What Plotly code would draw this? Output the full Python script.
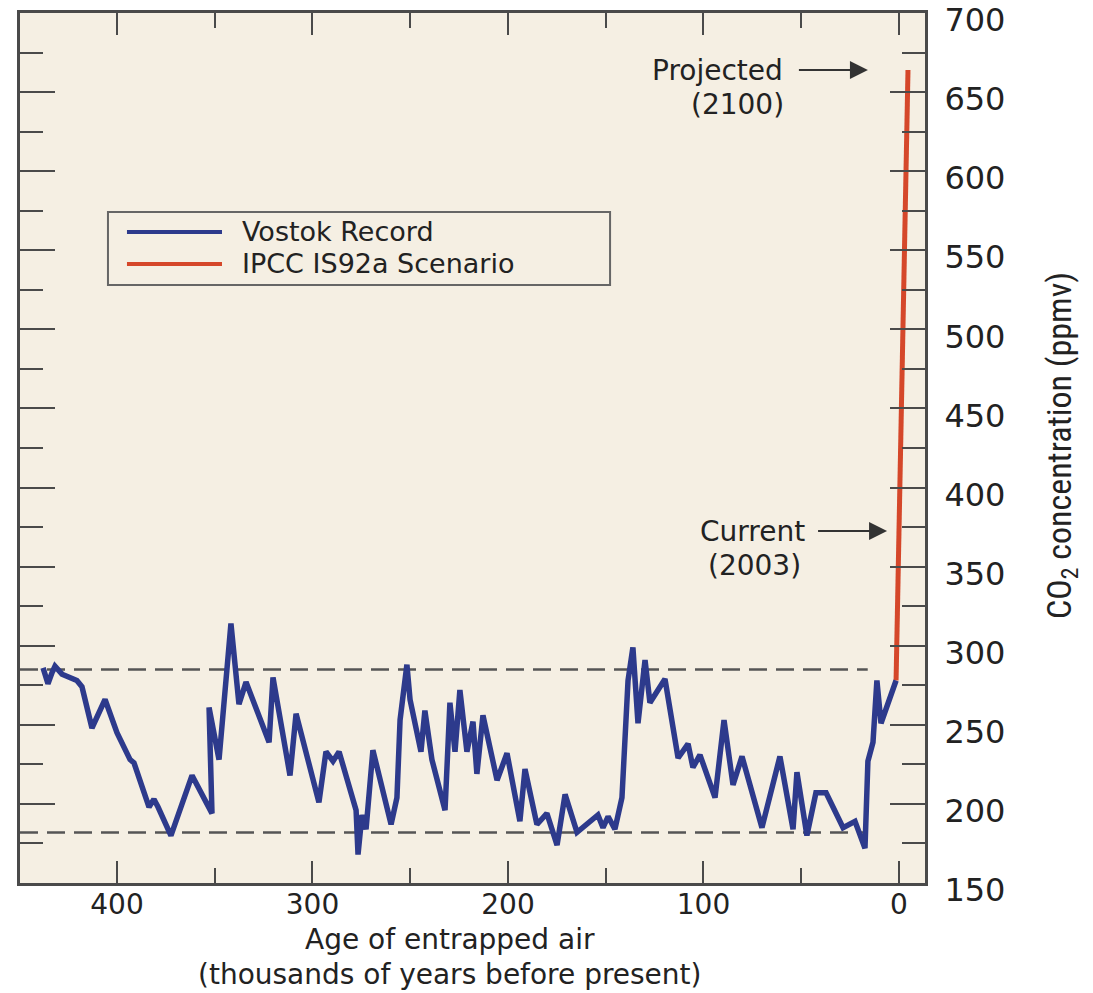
import plotly.graph_objects as go

# ---- data ----
vostok_age_ka = [437.8, 435.3, 433.2, 431.7, 428.1, 420.5, 417.9, 412.8, 406.1, 400.0,
                 393.3, 391.3, 383.6, 381.1, 379.0, 372.4, 361.6, 351.4, 352.9, 347.8,
                 341.7, 337.6, 334.0, 322.2, 320.2, 311.5, 308.4, 296.7, 293.1, 289.5,
                 286.4, 277.7, 276.7, 274.7, 272.6, 269.1, 259.8, 256.8, 255.2, 251.7,
                 250.1, 244.5, 242.5, 238.9, 232.2, 229.7, 227.1, 224.6, 221.0, 217.9,
                 215.9, 212.8, 205.6, 200.5, 193.9, 191.3, 185.2, 180.1, 174.9, 170.8,
                 164.7, 154.0, 151.4, 148.8, 145.3, 141.7, 138.6, 136.1, 133.5, 129.9,
                 127.4, 119.7, 113.0, 107.9, 105.4, 101.8, 94.1, 89.5, 84.9, 80.3,
                 70.1, 60.9, 54.2, 52.2, 47.1, 42.5, 37.3, 28.6, 22.5, 21.0,
                 17.4, 15.9, 13.3, 11.3, 9.2, 1.5]
vostok_co2 = [286, 276, 283, 287, 282, 278, 274, 248, 266, 245,
              228, 226, 198, 203, 198, 180, 218, 194, 261, 228,
              314, 263, 277, 239, 280, 218, 257, 201, 233, 227,
              233, 196, 168, 193, 184, 234, 187, 204, 253, 288,
              266, 233, 259, 228, 196, 264, 233, 272, 233, 252,
              219, 256, 215, 232, 189, 222, 187, 194, 174, 206,
              182, 193, 185, 192, 184, 204, 278, 299, 251, 291,
              264, 279, 229, 238, 223, 231, 204, 253, 212, 230,
              185, 230, 184, 220, 180, 207, 207, 185, 189, 184,
              172, 227, 239, 278, 251, 278]

ipcc_age_ka = [1.5, -4.6]
ipcc_co2 = [278, 664]

band_levels = [285, 182]          # dashed reference levels (ppmv)
band_age_span = [449.6, 16.0]     # extent of the dashed lines (ka)

x_tick_labels = ["400", "300", "200", "100", "0"]
y_tick_values = [150, 200, 250, 300, 350, 400, 450, 500, 550, 600, 650, 700]

series_names = ["Vostok Record", "IPCC IS92a Scenario"]

# annotation anchors (data coords)
projected_tip = (15.9, 663.9)
current_tip = (6.1, 372.5)

# ---- styling ----
BLUE = "#2D3A8C"
RED = "#D5472A"
AXIS = "#4A4A4A"
BG = "#F5EFE3"
TXT = "#222222"
WIDE = "DejaVu Sans, Verdana, sans-serif"
NARROW = "Liberation Sans Narrow, Arial Narrow, Roboto Condensed, sans-serif"

fig = go.Figure()

for lvl in band_levels:
    fig.add_trace(go.Scatter(
        x=band_age_span, y=[lvl, lvl], mode="lines",
        line=dict(color="#555555", width=2.5, dash="18px,9px"),
        hoverinfo="skip", showlegend=False))

fig.add_trace(go.Scatter(x=ipcc_age_ka, y=ipcc_co2, mode="lines", name=series_names[1],
                         line=dict(color=RED, width=5), showlegend=False))
fig.add_trace(go.Scatter(x=vostok_age_ka, y=vostok_co2, mode="lines", name=series_names[0],
                         line=dict(color=BLUE, width=5.5), showlegend=False))

fig.update_layout(
    width=1093, height=993,
    margin=dict(l=20, r=168, t=13, b=110, autoexpand=False),
    paper_bgcolor="white", plot_bgcolor=BG,
    showlegend=False,
)

fig.update_xaxes(
    range=[449.6, -13.3], autorange=False, automargin=False,
    tickmode="array", tickvals=[float(t) for t in x_tick_labels], ticktext=x_tick_labels,
    ticks="inside", ticklen=22, tickwidth=2, tickcolor=AXIS,
    minor=dict(tickmode="linear", tick0=0, dtick=50, ticks="inside", ticklen=15,
               tickwidth=2, tickcolor=AXIS, showgrid=False),
    showline=True, linecolor=AXIS, linewidth=3, mirror="ticks",
    showgrid=False, zeroline=False, ticklabelstandoff=-6,
    tickfont=dict(family=WIDE, size=28, color=TXT),
)
fig.update_yaxes(
    range=[150, 700], autorange=False, automargin=False, side="right",
    tickmode="array", tickvals=y_tick_values, ticktext=[str(v) for v in y_tick_values],
    ticks="inside", ticklen=35, tickwidth=2, tickcolor=AXIS,
    minor=dict(tickmode="linear", tick0=150, dtick=25, ticks="inside", ticklen=23,
               tickwidth=2, tickcolor=AXIS, showgrid=False),
    showline=True, linecolor=AXIS, linewidth=3, mirror="ticks",
    showgrid=False, zeroline=False, ticklabeloverflow="allow",
    ticklabelstandoff=10, ticklabelshift=7,
    tickfont=dict(family=WIDE, size=32, color=TXT),
)

# custom legend box
fig.add_shape(type="rect", xref="paper", yref="paper", x0=0.0972, x1=0.652, y0=0.6874, y1=0.7713,
              line=dict(color="#666666", width=2), fillcolor=BG, layer="above")
for yv, col, name in [(0.7483, BLUE, series_names[0]), (0.7115, RED, series_names[1])]:
    fig.add_shape(type="line", xref="paper", yref="paper", x0=0.1182, x1=0.2232, y0=yv, y1=yv,
                  line=dict(color=col, width=4), layer="above")
    fig.add_annotation(xref="paper", yref="paper", x=0.2431, y=yv, text=name, showarrow=False,
                       xanchor="left", yanchor="middle",
                       font=dict(family=WIDE, size=27, color=TXT))

# Projected / Current annotations (text with arrow to the curve)
fig.add_annotation(x=projected_tip[0], y=projected_tip[1], text="Projected", showarrow=True,
                   ax=-150, ay=0, startstandoff=14, standoff=0,
                   arrowhead=2, arrowsize=1.8, arrowwidth=2, arrowcolor="#333333",
                   font=dict(family=WIDE, size=28, color=TXT))
fig.add_annotation(x=58.0, y=642.4, text="(2100)", showarrow=False, xanchor="right", yanchor="middle",
                   font=dict(family=WIDE, size=28, color=TXT))

fig.add_annotation(x=current_tip[0], y=current_tip[1], text="Current", showarrow=True,
                   ax=-135, ay=0, startstandoff=12, standoff=0,
                   arrowhead=2, arrowsize=1.8, arrowwidth=2, arrowcolor="#333333",
                   font=dict(family=WIDE, size=28, color=TXT))
fig.add_annotation(x=49.1, y=351.0, text="(2003)", showarrow=False, xanchor="right", yanchor="middle",
                   font=dict(family=WIDE, size=28, color=TXT))

# axis titles
fig.add_annotation(xref="paper", yref="paper", x=0.475, y=-0.0655, text="Age of entrapped air",
                   showarrow=False, xanchor="center", yanchor="middle",
                   font=dict(family=WIDE, size=28, color=TXT))
fig.add_annotation(xref="paper", yref="paper", x=0.475, y=-0.1046,
                   text="(thousands of years before present)",
                   showarrow=False, xanchor="center", yanchor="middle",
                   font=dict(family=WIDE, size=28, color=TXT))
fig.add_annotation(xref="paper", yref="paper", x=1.1514, y=0.5023,
                   text="CO<sub>2</sub> concentration (ppmv)", textangle=-90,
                   showarrow=False, xanchor="center", yanchor="middle",
                   font=dict(family=NARROW, size=34, color=TXT))

fig.write_html("out.html")
